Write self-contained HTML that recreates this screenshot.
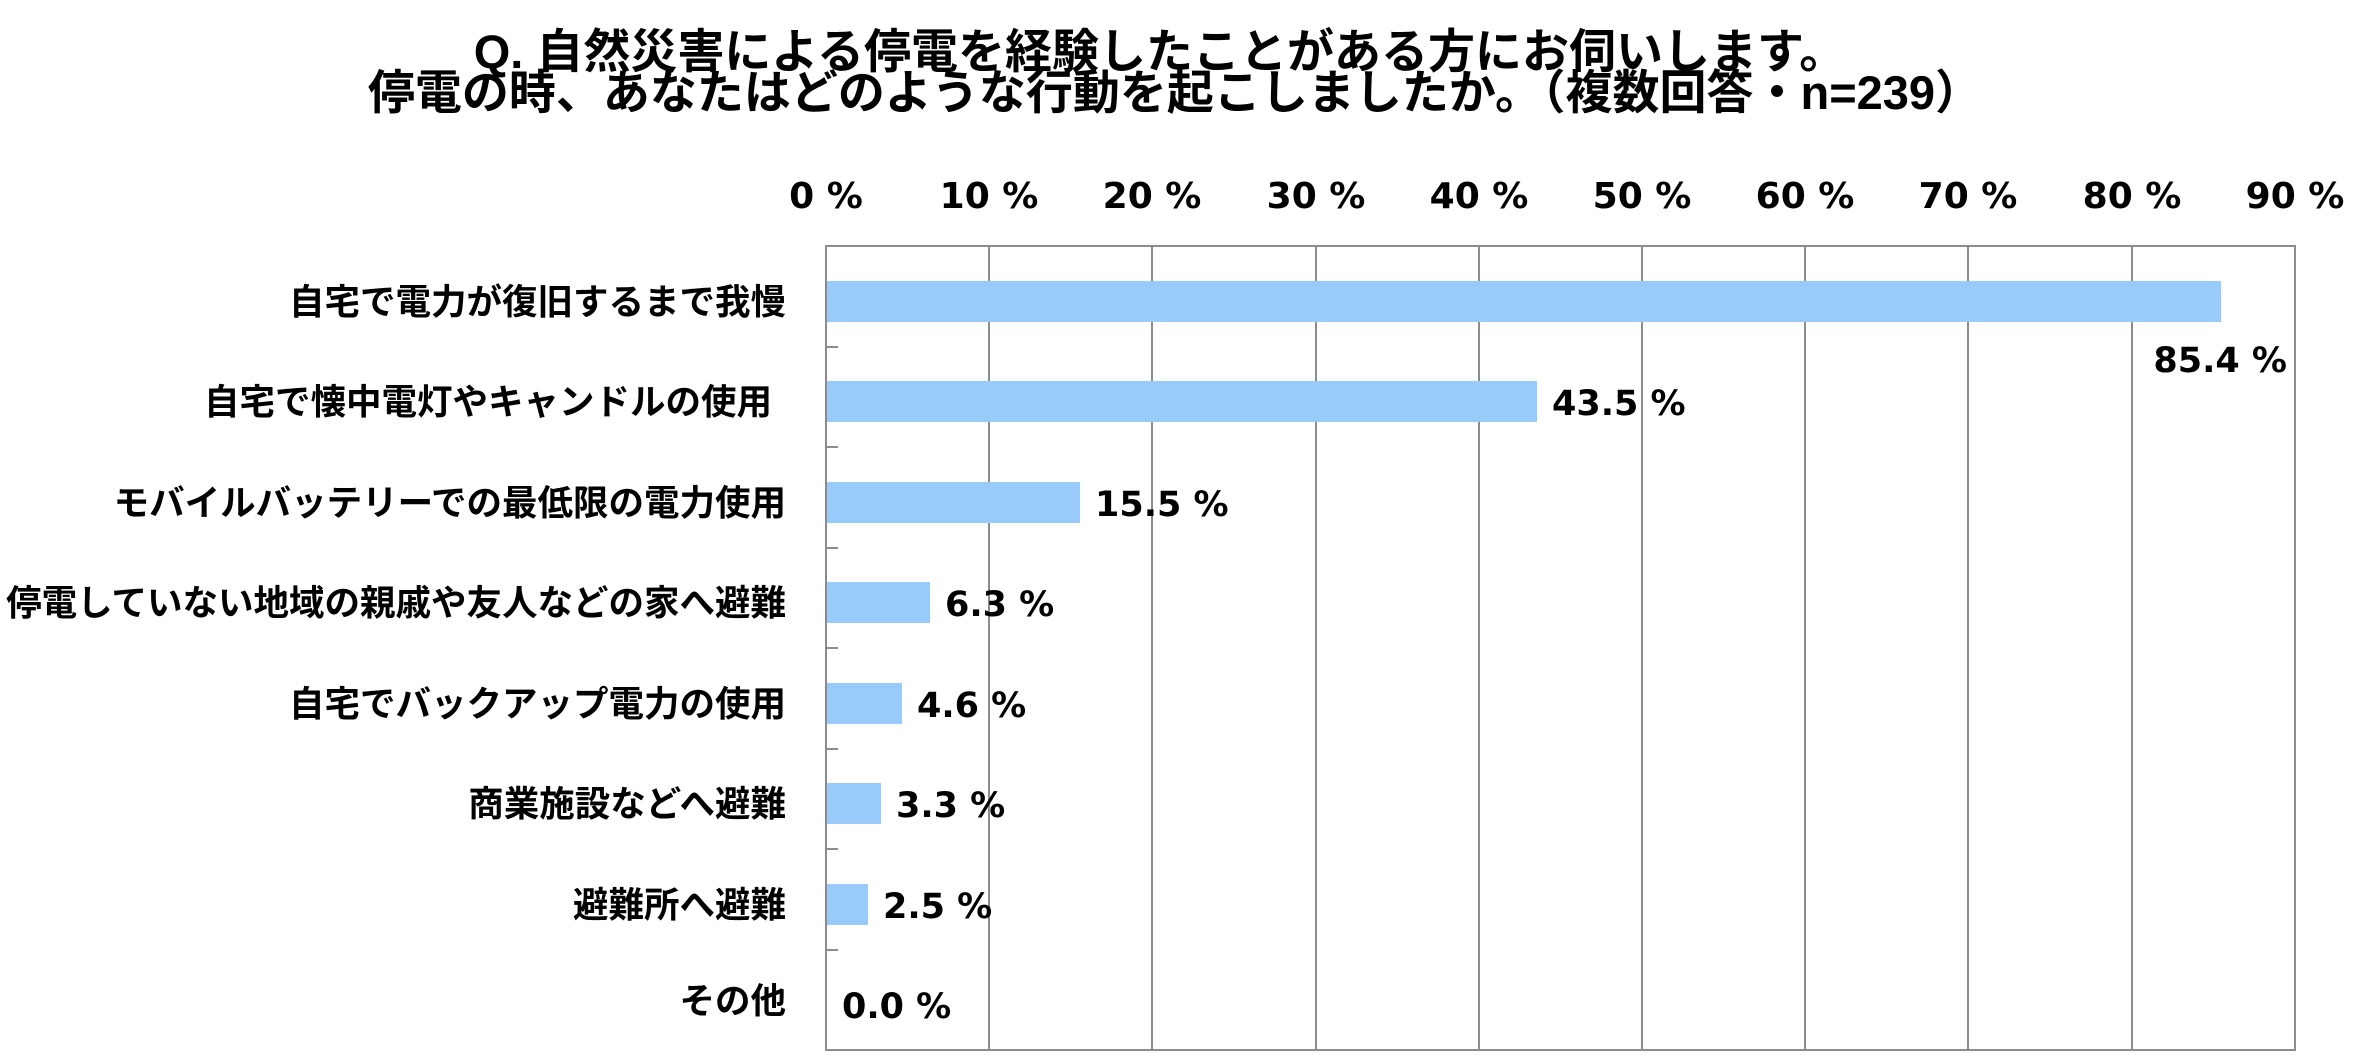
<!DOCTYPE html>
<html><head><meta charset="utf-8"><style>
html,body{margin:0;padding:0;background:#fff;}
svg{display:block;}
text{font-family:"DejaVu Sans","Noto Sans CJK JP",sans-serif;font-weight:bold;fill:#000;}
.c{font-family:"Liberation Sans","Noto Sans CJK JP",sans-serif;}
</style></head><body>
<svg width="2363" height="1063" viewBox="0 0 2363 1063" xmlns="http://www.w3.org/2000/svg">
<text class="c" x="1160" y="68" font-size="47" text-anchor="middle">Q. 自然災害による停電を経験したことがある方にお伺いします。</text>
<text class="c" x="1175" y="109" font-size="47" text-anchor="middle">停電の時、あなたはどのような行動を起こしましたか。（複数回答・n=239）</text>
<g font-size="36" text-anchor="middle">
<text x="826" y="208">0 %</text><text x="989" y="208">10 %</text><text x="1152" y="208">20 %</text><text x="1316" y="208">30 %</text><text x="1479" y="208">40 %</text><text x="1642" y="208">50 %</text><text x="1805" y="208">60 %</text><text x="1968" y="208">70 %</text><text x="2132" y="208">80 %</text><text x="2295" y="208">90 %</text>
</g>
<g stroke="#8c8c8c" stroke-width="2">
<line x1="989" y1="246" x2="989" y2="1050"/><line x1="1152" y1="246" x2="1152" y2="1050"/><line x1="1316" y1="246" x2="1316" y2="1050"/><line x1="1479" y1="246" x2="1479" y2="1050"/><line x1="1642" y1="246" x2="1642" y2="1050"/><line x1="1805" y1="246" x2="1805" y2="1050"/><line x1="1968" y1="246" x2="1968" y2="1050"/><line x1="2132" y1="246" x2="2132" y2="1050"/>
<rect x="826" y="246" width="1469" height="804" fill="none"/>
<line x1="826" y1="347" x2="838" y2="347"/><line x1="826" y1="447" x2="838" y2="447"/><line x1="826" y1="548" x2="838" y2="548"/><line x1="826" y1="648" x2="838" y2="648"/><line x1="826" y1="749" x2="838" y2="749"/><line x1="826" y1="849" x2="838" y2="849"/><line x1="826" y1="950" x2="838" y2="950"/>
</g>
<g fill="#99cbfa">
<rect x="827" y="281" width="1394" height="41"/>
<rect x="827" y="381" width="710" height="41"/>
<rect x="827" y="482" width="253" height="41"/>
<rect x="827" y="582" width="103" height="41"/>
<rect x="827" y="683" width="75" height="41"/>
<rect x="827" y="783" width="54" height="41"/>
<rect x="827" y="884" width="41" height="41"/>
</g>
<g font-size="35">
<text x="2287" y="372" text-anchor="end">85.4 %</text>
<text x="1552" y="415">43.5 %</text>
<text x="1095" y="516">15.5 %</text>
<text x="945" y="616">6.3 %</text>
<text x="917" y="717">4.6 %</text>
<text x="896" y="817">3.3 %</text>
<text x="883" y="918">2.5 %</text>
<text x="842" y="1018">0.0 %</text>
</g>
<g class="c" font-size="35.5" text-anchor="end">
<text class="c" x="786" y="314">自宅で電力が復旧するまで我慢</text>
<text class="c" x="772" y="414">自宅で懐中電灯やキャンドルの使用</text>
<text class="c" x="786" y="515">モバイルバッテリーでの最低限の電力使用</text>
<text class="c" x="786" y="615">停電していない地域の親戚や友人などの家へ避難</text>
<text class="c" x="786" y="716">自宅でバックアップ電力の使用</text>
<text class="c" x="786" y="816">商業施設などへ避難</text>
<text class="c" x="786" y="917">避難所へ避難</text>
<text class="c" x="786" y="1013">その他</text>
</g>
</svg>
</body></html>
